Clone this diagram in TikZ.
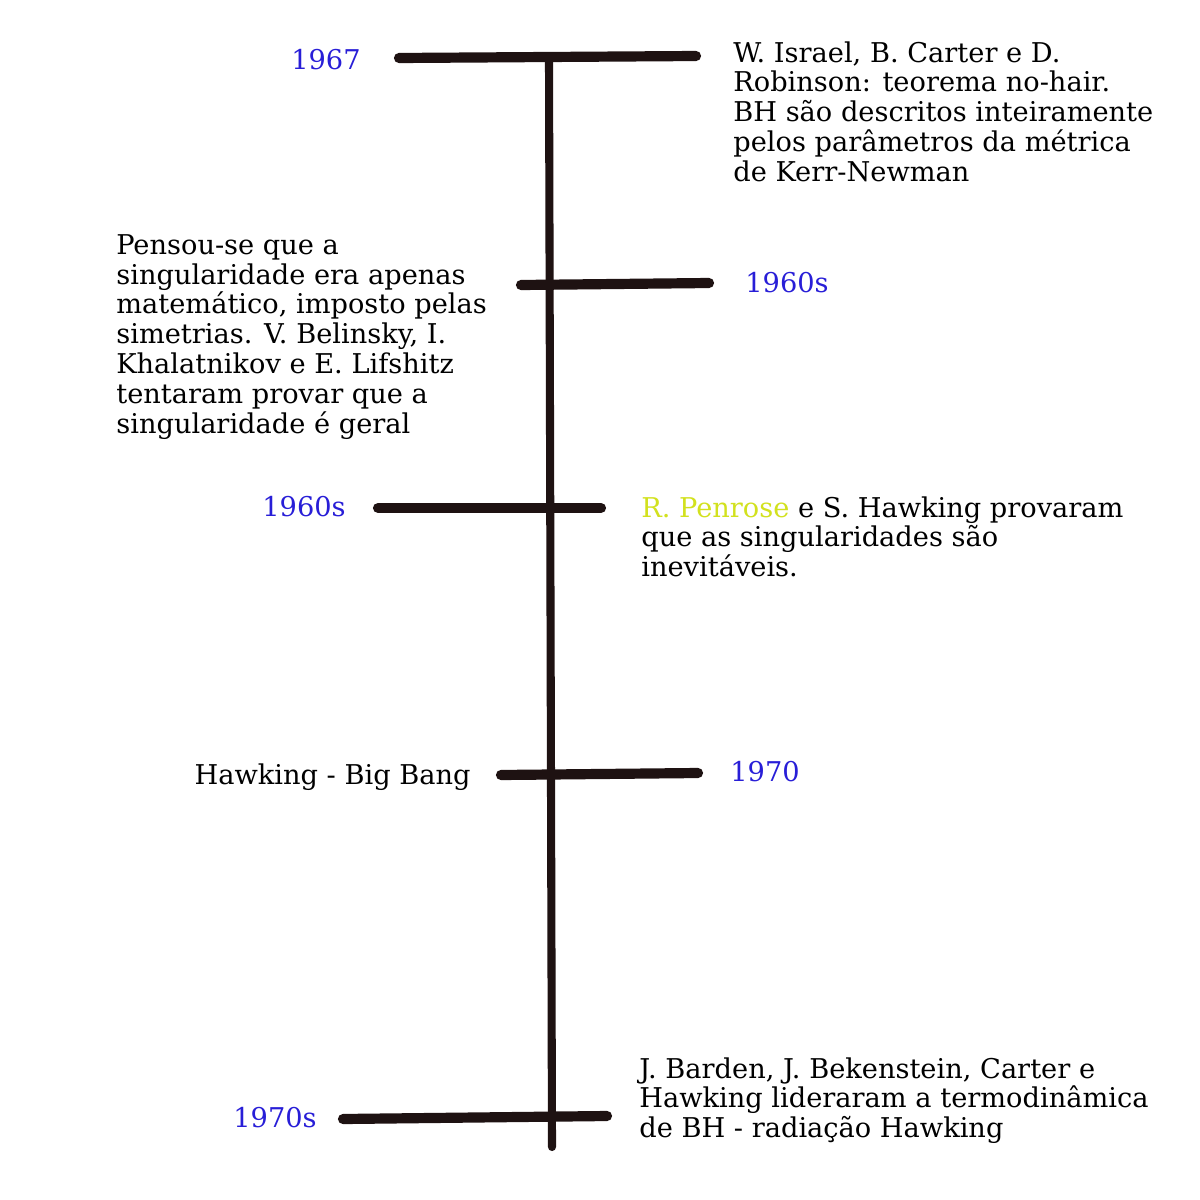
\documentclass[tikz,border=0pt]{standalone}
\usepackage{fontspec}
\setmainfont{DejaVu Serif}
\usepackage{xcolor}
\usetikzlibrary{positioning}

\definecolor{lineink}{RGB}{30,18,18}
\definecolor{yearblue}{RGB}{40,30,215}
\definecolor{penroseyellow}{RGB}{210,225,30}

\begin{document}
\begin{tikzpicture}[
  x=0.02cm,y=-0.02cm,
  tick/.style={line width=5.8pt,line cap=round,draw=lineink},
  axis/.style={line width=4.6pt,line cap=round,draw=lineink},
  year/.style={text=yearblue,inner sep=0pt,font=\fontsize{15.5}{17}\selectfont},
  note/.style={align=left,inner sep=0pt,font=\fontsize{15.5}{17}\selectfont}
]
\useasboundingbox (0,0) rectangle (1200,1200);

% timeline
\coordinate (top) at (549,60);
\coordinate (bottom) at (552,1147);
\draw[axis] (top) -- (bottom);

% ticks
\coordinate (t1w) at (399,58);  \coordinate (t1e) at (696,56);
\coordinate (t2w) at (521,285); \coordinate (t2e) at (709,283);
\coordinate (t3w) at (378,508); \coordinate (t3e) at (601,508);
\coordinate (t4w) at (501,775); \coordinate (t4e) at (698,773);
\coordinate (t5w) at (343,1119); \coordinate (t5e) at (607,1116);
\draw[tick] (t1w) -- (t1e);
\draw[tick] (t2w) -- (t2e);
\draw[tick] (t3w) -- (t3e);
\draw[tick] (t4w) -- (t4e);
\draw[tick] (t5w) -- (t5e);

% years
\node[year,anchor=east] (y1967) at (361,60) {1967};
\node[year,anchor=west] (y1960a) at (745,283) {1960s};
\node[year,anchor=east] (y1960b) at (346,507) {1960s};
\node[year,anchor=west] (y1970) at (730,772) {1970};
\node[year,anchor=east] (y1970s) at (317,1118) {1970s};

% events
\node[note,anchor=north west] (nohair) at (733,41)
  {W. Israel, B. Carter e D.\\Robinson: teorema no-hair.\\BH são descritos inteiramente\\pelos parâmetros da métrica\\de Kerr-Newman};
\node[note,anchor=north west] (bkl) at (116,234)
  {Pensou-se que a\\singularidade era apenas\\matemático, imposto pelas\\simetrias. V. Belinsky, I.\\Khalatnikov e E. Lifshitz\\tentaram provar que a\\singularidade é geral};
\node[note,anchor=north west] (penrose) at (641,496)
  {{\color{penroseyellow}R. Penrose} e S. Hawking provaram\\que as singularidades são\\inevitáveis.};
\node[note,anchor=base east] (bigbang) at (471,784) {Hawking - Big Bang};
\node[note,anchor=north west] (thermo) at (639,1057)
  {J. Barden, J. Bekenstein, Carter e\\Hawking lideraram a termodinâmica\\de BH - radiação Hawking};
\end{tikzpicture}
\end{document}
